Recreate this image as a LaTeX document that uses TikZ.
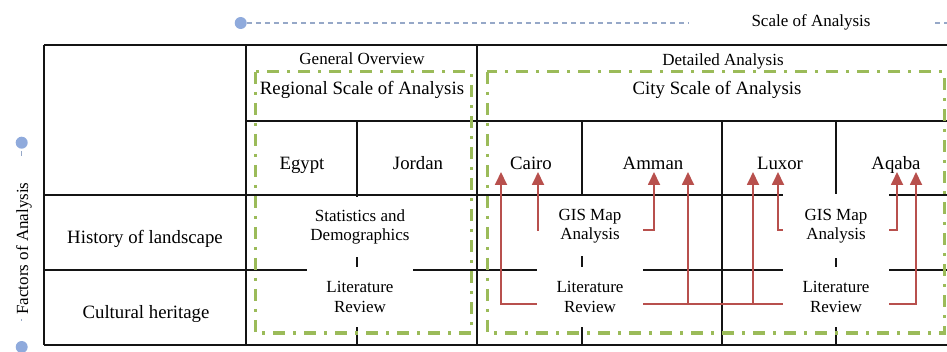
\documentclass[tikz,border=0pt]{standalone}
\usepackage{fontspec}
\setmainfont{Liberation Serif}
\usetikzlibrary{arrows.meta}
\definecolor{gridc}{RGB}{20,20,20}
\definecolor{greenc}{RGB}{155,187,89}
\definecolor{redc}{RGB}{184,80,77}
\definecolor{axisc}{RGB}{143,170,220}
\definecolor{axisd}{RGB}{150,168,200}
\begin{document}
\begin{tikzpicture}[x=1pt,y=-1pt,
  grid/.style={draw=gridc,line width=1.5pt},
  outer/.style={draw=gridc,line width=2pt},
  zone/.style={draw=greenc,line width=3pt,dash pattern=on 12pt off 8pt on 3pt off 8pt},
  redline/.style={draw=redc,line width=1.8pt},
  flow/.style={redline,-{Triangle[length=13pt,width=12pt]}},
  big/.style={font=\fontsize{18.8}{21}\selectfont,inner sep=0pt},
  small/.style={font=\fontsize{17}{19.5}\selectfont,inner sep=0pt,align=center},
  cover/.style={small,fill=white,minimum width=106pt,minimum height=60pt},
  dot/.style={circle,fill=axisc,minimum size=12pt,inner sep=0pt},
  axisline/.style={draw=axisd,line width=1.3pt,dash pattern=on 5pt off 4pt},
]
\useasboundingbox (0,0) rectangle (947,352);

% table grid
\draw[outer] (44,45) -- (947,45);
\draw[outer] (44,345) -- (947,345);
\draw[grid] (44,45) -- (44,345);
\draw[grid] (246,45) -- (246,345);
\draw[grid] (477,45) -- (477,345);
\draw[grid] (246,121) -- (947,121);
\draw[grid] (44,195) -- (947,195);
\draw[grid] (44,270) -- (947,270);
\draw[grid] (357,121) -- (357,345);
\draw[grid] (582,121) -- (582,345);
\draw[grid] (722,121) -- (722,345);
\draw[grid] (836,121) -- (836,345);

% method boxes
\node[cover] (stat) at (360,227) {Statistics and\\Demographics};
\node[cover] (lrL) at (360,297) {Literature\\Review};
\node[cover] (gisM) at (590,226) {GIS Map\\Analysis};
\node[cover] (lrM) at (590,297) {Literature\\Review};
\node[cover,minimum height=64pt] (gisR) at (836,226) {GIS Map\\Analysis};
\node[cover] (lrR) at (836,297) {Literature\\Review};

% green zones
\draw[zone] (255,72) rectangle (471,333);
\draw[zone] (487,72) rectangle (944,333);

% header texts
\node[small,anchor=base] (genov) at (362,65) {General Overview};
\node[small,anchor=base] (detan) at (723,65.5) {Detailed Analysis};
\node[big,anchor=base] (regional) at (362,94.5) {Regional Scale of Analysis};
\node[big,anchor=base] (city) at (717,94.5) {City Scale of Analysis};
\node[big,anchor=base] (egypt) at (302,169.5) {Egypt};
\node[big,anchor=base] (jordan) at (418,169.5) {Jordan};
\node[big,anchor=base] (cairo) at (531,169.5) {Cairo};
\node[big,anchor=base] (amman) at (653,169.5) {Amman};
\node[big,anchor=base] (luxor) at (780,169.5) {Luxor};
\node[big,anchor=base] (aqaba) at (896,169.5) {Aqaba};
\node[big,anchor=base] (hist) at (145,244) {History of landscape};
\node[big,anchor=base] (cult) at (146,318.5) {Cultural heritage};

% red arrows
\coordinate (tc1) at (501,172);
\coordinate (tc2) at (538,172);
\coordinate (ta1) at (654,172);
\coordinate (ta2) at (688,172);
\coordinate (tl1) at (753,172);
\coordinate (tl2) at (778,172);
\coordinate (tq1) at (897,172);
\coordinate (tq2) at (916,172);
\draw[redline] ([yshift=-7pt]lrM.east) -- ([yshift=-7pt]lrR.west);
\draw[flow] ([yshift=-7pt]lrM.west) -| (tc1);
\draw[flow] ([yshift=-4pt]gisM.west) -| (tc2);
\draw[flow] ([yshift=-4pt]gisM.east) -| (ta1);
\draw[flow] ([yshift=-7pt]lrM.east) -| (ta2);
\draw[flow] ([yshift=-7pt]lrR.west) -| (tl1);
\draw[flow] ([yshift=-4pt]gisR.west) -| (tl2);
\draw[flow] ([yshift=-4pt]gisR.east) -| (tq1);
\draw[flow] ([yshift=-7pt]lrR.east) -| (tq2);

% axes
\node[dot] (topdot) at (240.7,23) {};
\coordinate (topgap) at (688,23);
\coordinate (topresume) at (935,23);
\coordinate (topend) at (947,23);
\draw[axisline] (topdot.east) -- (topgap);
\draw[axisline] (topresume) -- (topend);
\node[small,anchor=base] (scale) at (811,26.5) {Scale of Analysis};

\node[dot] (leftdot) at (21.7,142.7) {};
\node[dot] (bottomdot) at (21.7,347) {};
\coordinate (lg1) at (21.7,151);
\coordinate (lg2) at (21.7,156);
\coordinate (lg3) at (21.7,319);
\coordinate (lg4) at (21.7,321.5);
\draw[draw=axisd,line width=1.3pt] (lg1) -- (lg2);
\draw[draw=axisd,line width=1.3pt] (lg3) -- (lg4);
\node[small,rotate=90,anchor=base] (factors) at (28,248.5) {Factors of Analysis};
\end{tikzpicture}
\end{document}
